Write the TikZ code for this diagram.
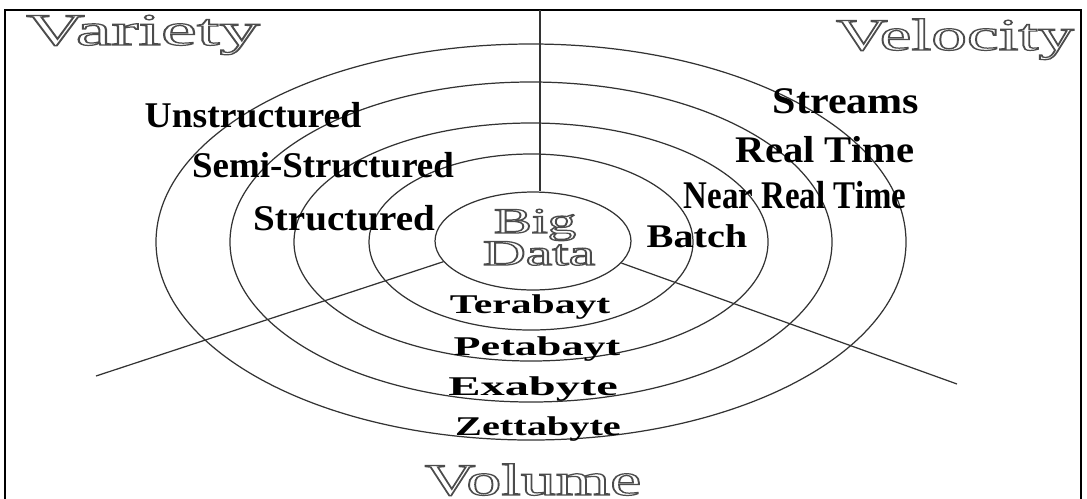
\documentclass[tikz,border=0pt]{standalone}
\usepackage{fontspec}
\setmainfont{Liberation Serif}
\usepackage{graphicx}
\usetikzlibrary{positioning, shapes.geometric}
\newcommand{\hollow}[1]{{\color{black!70}\special{pdf:literal direct 1 Tr 0.7 w}#1\special{pdf:literal direct 0 Tr}}}
\newcommand{\wide}[2]{\scalebox{#1}[1]{#2}}

\begin{document}
\begin{tikzpicture}[x=0.02cm, y=-0.02cm,
    ring/.style = {draw=black!80, line width=0.7pt},
    title/.style = {anchor=base, inner sep=0pt, font=\fontsize{#1}{#1}\selectfont},
    title/.default = 25.7,
    lab/.style = {anchor=base, inner sep=0pt, font=\bfseries\fontsize{#1}{#1}\selectfont},
    lab/.default = 20.6]
    \useasboundingbox (0,0) rectangle (1087,498);
    \clip (0,0) rectangle (1087,498);
    \draw[line width=1.2pt] (5,10) rectangle (1081,530);

    % rings round the core
    \foreach \rx/\ry in {162/88, 237/119, 301/160, 375/198}
        \draw[ring] (531,242) ellipse [x radius=\rx, y radius=\ry];
    \node[ring, ellipse, inner sep=0pt, minimum width=3.92cm, minimum height=1.96cm] (core) at (533,241) {};

    % spokes
    \coordinate (top) at (540,10);
    \coordinate (lend) at (96,376);
    \coordinate (rend) at (957,384);
    \draw[ring] (top) -- (top |- core.north);
    \draw[ring] (core.193.7) -- (lend);
    \draw[ring] (core.346.7) -- (rend);

    % the three V's
    \node[title] (variety) at (143,45) {\wide{1.79}{\hollow{Variety}}};
    \node[title] (velocity) at (955,50) {\wide{1.58}{\hollow{Velocity}}};
    \node[title] (volume) at (533,495) {\wide{1.55}{\hollow{Volume}}};
    \node[title=20.5] (big) at (535,233) {\wide{1.58}{\hollow{Big}}};
    \node[title=20.5] (data) at (539,265) {\wide{1.65}{\hollow{Data}}};

    % variety
    \node[lab] (unstr) at (253,127) {\wide{1.04}{Unstructured}};
    \node[lab] (semi) at (323,177) {\wide{1.02}{Semi-Structured}};
    \node[lab] (str) at (344,230) {\wide{1.08}{Structured}};

    % velocity
    \node[lab=21.4] (streams) at (846,113) {\wide{1.12}{Streams}};
    \node[lab=21.4] (real) at (825,162) {\wide{1.08}{Real Time}};
    \node[lab=22.3] (near) at (795,208) {\wide{0.84}{Near Real Time}};
    \node[lab=18.8] (batch) at (697,247) {\wide{1.22}{Batch}};

    % volume
    \node[lab=15.4] (tera) at (530,313) {\wide{1.54}{Terabayt}};
    \node[lab=15.4] (peta) at (537,355) {\wide{1.63}{Petabayt}};
    \node[lab=15.4] (exa) at (533,395) {\wide{1.79}{Exabyte}};
    \node[lab=15.4] (zetta) at (538,435) {\wide{1.49}{Zettabyte}};
\end{tikzpicture}
\end{document}
